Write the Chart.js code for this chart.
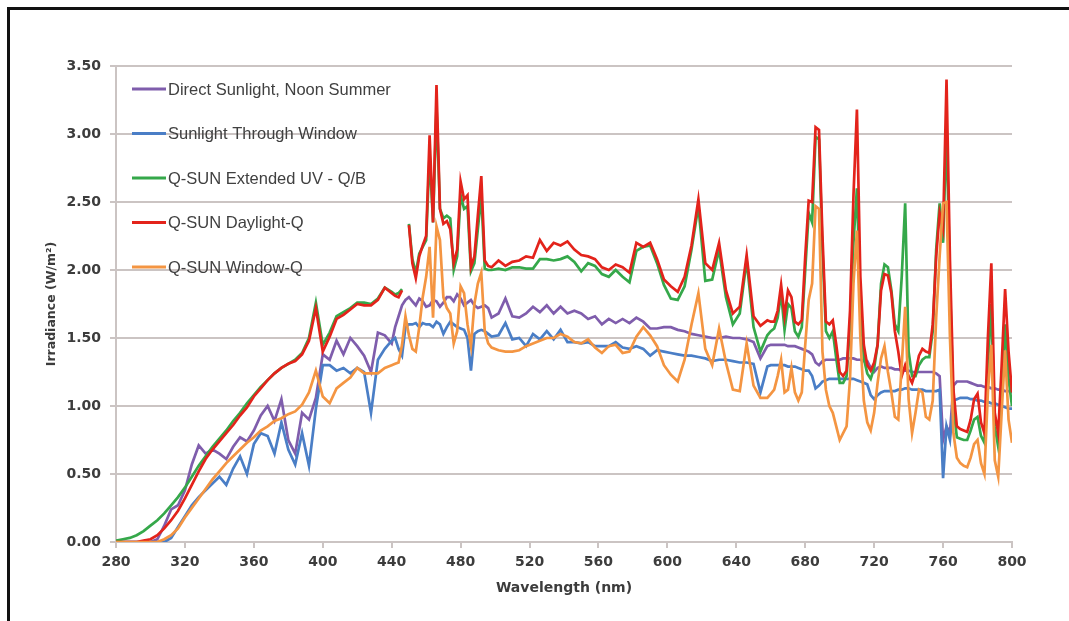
<!DOCTYPE html>
<html>
<head>
<meta charset="utf-8">
<title>Irradiance spectra</title>
<script src="https://cdn.jsdelivr.net/npm/chart.js@4.4.1/dist/chart.umd.min.js"></script>
<style>
  html, body { margin: 0; padding: 0; background: #fff; }
  #wrap { position: relative; width: 1069px; height: 621px; overflow: hidden; }
  #spectrum { position: absolute; left: 0; top: 0; }
  /* black frame, only top and left edges are visible in the shot */
  #frame { position: absolute; left: 7px; top: 7px; width: 1200px; height: 800px;
           border-left: 3px solid #111; border-top: 3px solid #111; }
</style>
</head>
<body>
<div id="wrap">
  <canvas id="spectrum" width="1069" height="621"></canvas>
  <div id="frame"></div>
</div>
<script>
// wavelength grid (nm): 4 nm steps, 2 nm where the lamp lines are sharp
const wavelength = [
  280,284,288,292,296,300,304,308,312,316,320,324,328,332,336,340,344,348,352,356,
  360,364,368,372,376,380,384,388,392,396,400,404,408,412,416,420,424,428,432,436,440,
  442,444,446,448,450,452,454,456,458,460,462,464,466,468,470,472,474,476,478,480,
  482,484,486,488,490,492,494,496,498,
  502,506,510,514,518,522,526,530,534,538,542,546,550,554,558,562,566,570,574,578,
  582,586,590,594,598,602,606,610,614,618,622,626,630,634,638,642,646,650,654,658,
  660,662,664,666,668,670,672,674,676,678,680,682,684,686,688,690,692,694,696,698,
  700,702,704,706,708,710,712,714,716,718,720,722,724,726,728,730,732,734,736,738,
  740,742,744,746,748,750,752,754,756,758,760,762,764,766,768,770,772,774,776,778,
  780,782,784,786,788,790,792,794,796,798,800
];

const directSun = [
  0,0,0,0,0,0,0.02,0.12,0.24,0.27,0.38,0.57,0.71,0.65,0.68,0.65,0.61,0.70,0.77,0.74,
  0.82,0.93,1.00,0.89,1.05,0.75,0.65,0.95,0.90,1.06,1.38,1.34,1.48,1.38,1.50,1.44,1.37,1.25,1.54,1.52,1.46,
  1.58,1.66,1.74,1.78,1.80,1.77,1.74,1.79,1.77,1.73,1.74,1.78,1.77,1.73,1.76,1.80,1.80,1.77,1.82,1.79,
  1.74,1.76,1.78,1.74,1.72,1.73,1.74,1.72,1.65,
  1.68,1.79,1.66,1.65,1.68,1.73,1.69,1.74,1.68,1.73,1.68,1.70,1.68,1.64,1.66,1.60,1.64,1.61,1.64,1.61,
  1.65,1.62,1.57,1.57,1.58,1.58,1.56,1.55,1.53,1.52,1.51,1.50,1.50,1.51,1.50,1.50,1.49,1.47,1.35,1.44,
  1.45,1.45,1.45,1.45,1.45,1.44,1.44,1.44,1.43,1.42,1.41,1.40,1.38,1.32,1.30,1.33,1.34,1.34,1.34,1.34,
  1.34,1.35,1.35,1.35,1.35,1.34,1.34,1.33,1.33,1.28,1.25,1.28,1.29,1.28,1.28,1.28,1.27,1.27,1.26,1.26,
  1.26,1.25,1.25,1.25,1.25,1.25,1.25,1.25,1.24,1.22,0.75,0.85,0.80,1.15,1.18,1.18,1.18,1.18,1.17,1.16,
  1.15,1.15,1.14,1.14,1.13,1.13,1.12,1.12,1.11,1.11,1.10
];

const throughWindow = [
  0,0,0,0,0,0,0,0,0.03,0.11,0.19,0.27,0.33,0.38,0.43,0.48,0.42,0.54,0.63,0.50,
  0.72,0.80,0.78,0.65,0.88,0.68,0.57,0.80,0.56,0.98,1.30,1.30,1.26,1.28,1.24,1.28,1.25,0.95,1.34,1.42,1.48,
  1.50,1.42,1.37,1.58,1.60,1.60,1.61,1.58,1.61,1.60,1.60,1.58,1.62,1.60,1.53,1.58,1.62,1.60,1.58,1.57,
  1.56,1.50,1.26,1.53,1.55,1.56,1.55,1.53,1.51,
  1.52,1.61,1.49,1.50,1.44,1.53,1.49,1.55,1.49,1.56,1.47,1.47,1.46,1.47,1.44,1.44,1.44,1.47,1.43,1.42,
  1.44,1.42,1.37,1.41,1.40,1.39,1.38,1.37,1.37,1.36,1.35,1.33,1.34,1.34,1.33,1.32,1.32,1.31,1.10,1.29,
  1.30,1.30,1.30,1.30,1.30,1.29,1.29,1.29,1.28,1.27,1.26,1.26,1.22,1.13,1.15,1.18,1.19,1.20,1.20,1.20,
  1.20,1.20,1.20,1.20,1.20,1.19,1.18,1.17,1.16,1.08,1.05,1.08,1.10,1.11,1.11,1.11,1.11,1.12,1.12,1.13,
  1.13,1.12,1.12,1.12,1.12,1.11,1.11,1.11,1.11,1.12,0.47,0.85,0.75,1.04,1.05,1.06,1.06,1.06,1.05,1.05,
  1.04,1.04,1.03,1.03,1.02,1.02,1.01,1.00,0.99,0.98,0.98
];

const extendedUV = [
  0.01,0.02,0.03,0.05,0.08,0.12,0.16,0.21,0.27,0.33,0.40,0.48,0.56,0.63,0.70,0.76,0.82,0.89,0.95,1.02,
  1.08,1.14,1.19,1.24,1.28,1.31,1.34,1.39,1.50,1.76,1.45,1.54,1.66,1.69,1.72,1.76,1.76,1.75,1.79,1.87,1.84,
  1.82,1.83,1.86,null,2.34,2.08,1.98,2.12,2.17,2.22,2.85,2.35,3.20,2.45,2.38,2.40,2.38,2.00,2.10,2.55,
  2.45,2.47,1.99,2.05,2.30,2.55,2.01,2.00,2.00,
  2.01,2.00,2.02,2.02,2.01,2.01,2.08,2.08,2.07,2.08,2.10,2.06,1.99,2.05,2.03,1.97,1.95,2.00,1.95,1.91,
  2.14,2.17,2.18,2.05,1.89,1.79,1.78,1.88,2.15,2.47,1.92,1.93,2.15,1.80,1.60,1.68,2.07,1.58,1.40,1.52,
  1.55,1.57,1.65,1.83,1.56,1.75,1.72,1.55,1.51,1.58,2.00,2.42,2.35,2.98,2.96,2.15,1.55,1.50,1.55,1.35,
  1.17,1.17,1.22,1.60,2.20,2.60,1.75,1.35,1.24,1.20,1.28,1.45,1.90,2.04,2.02,1.85,1.60,1.55,1.95,2.49,
  1.40,1.22,1.22,1.30,1.34,1.36,1.36,1.55,2.15,2.49,2.20,3.05,1.90,1.00,0.77,0.76,0.75,0.75,0.82,0.90,
  0.92,0.78,0.73,1.30,1.75,0.85,0.70,1.10,1.60,1.20,1.00
];

const daylightQ = [
  0,0,0,0,0.01,0.02,0.05,0.10,0.16,0.23,0.32,0.42,0.52,0.61,0.68,0.74,0.80,0.86,0.93,0.99,
  1.07,1.13,1.19,1.24,1.28,1.31,1.33,1.38,1.48,1.72,1.40,1.51,1.64,1.67,1.71,1.75,1.74,1.74,1.78,1.87,1.83,
  1.81,1.80,1.85,null,2.33,2.05,1.94,2.10,2.18,2.25,2.99,2.35,3.36,2.45,2.34,2.36,2.30,2.05,2.15,2.65,
  2.52,2.55,2.02,2.10,2.40,2.69,2.07,2.03,2.02,
  2.07,2.03,2.06,2.07,2.10,2.09,2.22,2.14,2.20,2.18,2.21,2.15,2.11,2.10,2.08,2.02,2.00,2.04,2.02,1.98,
  2.20,2.17,2.20,2.08,1.93,1.88,1.84,1.95,2.18,2.52,2.05,2.00,2.20,1.85,1.68,1.73,2.11,1.66,1.59,1.63,
  1.62,1.62,1.70,1.89,1.66,1.85,1.80,1.62,1.60,1.63,2.10,2.51,2.50,3.05,3.03,2.25,1.62,1.60,1.63,1.45,
  1.25,1.22,1.26,1.70,2.55,3.18,1.95,1.45,1.30,1.26,1.32,1.45,1.85,1.97,1.96,1.83,1.55,1.40,1.22,1.30,
  1.22,1.17,1.25,1.37,1.42,1.40,1.39,1.60,2.10,2.42,2.30,3.40,2.07,1.12,0.85,0.83,0.82,0.81,0.90,1.05,
  1.09,0.88,0.80,1.50,2.05,0.95,0.80,1.30,1.86,1.40,1.10
];

const windowQ = [
  0,0,0,0,0,0,0,0.02,0.05,0.10,0.18,0.25,0.32,0.39,0.46,0.52,0.58,0.63,0.68,0.73,
  0.77,0.82,0.85,0.89,0.91,0.94,0.96,1.01,1.10,1.26,1.07,1.02,1.13,1.17,1.21,1.28,1.24,1.24,1.24,1.28,1.30,
  1.31,1.32,1.45,1.66,1.52,1.42,1.40,1.58,1.80,1.95,2.17,1.65,2.32,2.22,1.80,1.72,1.68,1.46,1.55,1.88,
  1.83,1.60,1.44,1.75,1.90,1.98,1.55,1.46,1.43,
  1.41,1.40,1.40,1.41,1.44,1.46,1.48,1.50,1.50,1.53,1.51,1.47,1.46,1.49,1.43,1.39,1.44,1.45,1.39,1.40,
  1.51,1.58,1.52,1.44,1.30,1.23,1.18,1.34,1.60,1.83,1.42,1.30,1.57,1.32,1.12,1.11,1.46,1.15,1.06,1.06,
  1.09,1.12,1.22,1.34,1.10,1.12,1.28,1.10,1.04,1.10,1.45,1.78,1.90,2.47,2.45,1.40,1.12,1.00,0.95,0.85,
  0.75,0.80,0.85,1.20,1.90,2.29,1.50,1.04,0.88,0.82,0.95,1.17,1.35,1.44,1.25,1.10,0.92,0.90,1.30,1.73,
  1.05,0.80,0.95,1.12,1.10,0.92,0.90,1.04,1.65,2.10,2.49,2.50,1.50,0.80,0.62,0.58,0.56,0.55,0.62,0.72,
  0.75,0.58,0.50,1.10,1.45,0.60,0.48,0.95,1.41,0.90,0.73
];

const yTicks = [0, 0.5, 1, 1.5, 2, 2.5, 3, 3.5];

const seriesLabels = ['Direct Sunlight, Noon Summer', 'Sunlight Through Window',
  'Q-SUN Extended UV - Q/B', 'Q-SUN Daylight-Q', 'Q-SUN Window-Q'];
const seriesValues = [directSun, throughWindow, extendedUV, daylightQ, windowQ];
const seriesColors = ['#7f5dac', '#4a7ec6', '#35a84a', '#e3231b', '#f49542'];
// lower order is painted later (on top): orange over red over green...
const drawOrder = [4, 3, 2, 1, 0];

const gridColor = '#cbc4c3';
const textColor = '#3c3c3c';

// legend drawn inside the plot, top left, like the original
const insideLegend = {
  id: 'insideLegend',
  afterDatasetsDraw(chart) {
    const ctx = chart.ctx;
    ctx.save();
    ctx.font = '16.5px "Liberation Sans", Arial, sans-serif';
    ctx.textBaseline = 'middle';
    ctx.lineWidth = 3;
    chart.data.datasets.forEach((ds, i) => {
      const y = 89 + i * 44.5;
      ctx.strokeStyle = ds.borderColor;
      ctx.beginPath();
      ctx.moveTo(132, y);
      ctx.lineTo(166, y);
      ctx.stroke();
      ctx.fillStyle = '#404040';
      ctx.fillText(ds.label, 168, y + 1);
    });
    ctx.restore();
  }
};

const datasets = seriesLabels.map((label, i) => ({
  label: label,
  data: wavelength.map((w, k) => ({ x: w, y: seriesValues[i][k] })),
  borderColor: seriesColors[i],
  backgroundColor: seriesColors[i],
  borderWidth: 2.7,
  pointRadius: 0,
  tension: 0,
  spanGaps: false,
  fill: false,
  order: drawOrder[i]
}));

const ctx = document.getElementById('spectrum').getContext('2d');
new Chart(ctx, {
  type: 'line',
  data: { datasets: datasets },
  options: {
    responsive: false,
    animation: false,
    layout: { padding: { left: 0, right: 57, top: 66, bottom: 0 } },
    plugins: {
      legend: { display: false },
      tooltip: { enabled: false }
    },
    scales: {
      x: {
        type: 'linear',
        min: 280,
        max: 800,
        ticks: {
          stepSize: 40,
          autoSkip: false,
          maxRotation: 0,
          padding: 6,
          color: textColor,
          font: { family: '"DejaVu Sans", sans-serif', size: 14, weight: 'bold' }
        },
        grid: { drawOnChartArea: false, drawTicks: true, tickLength: 6, color: gridColor, lineWidth: 2 },
        border: { color: gridColor, width: 2 },
        title: {
          display: true,
          text: 'Wavelength (nm)',
          color: textColor,
          font: { family: '"DejaVu Sans", sans-serif', size: 14, weight: 'bold' },
          padding: { top: 0, bottom: 24 }
        },
        afterFit: (scale) => { scale.height = 79; }
      },
      y: {
        min: 0,
        max: 3.5,
        afterBuildTicks: (scale) => { scale.ticks = yTicks.map(v => ({ value: v })); },
        ticks: {
          padding: 9,
          color: textColor,
          font: { family: '"DejaVu Sans", sans-serif', size: 14, weight: 'bold' },
          callback: (v) => v.toFixed(2)
        },
        grid: { color: gridColor, lineWidth: 2, tickLength: 6 },
        border: { color: gridColor, width: 2 },
        title: {
          display: true,
          text: 'Irradiance (W/m²)',
          color: textColor,
          font: { family: '"DejaVu Sans", sans-serif', size: 12.5, weight: 'bold' },
          padding: { top: 44, bottom: 0 }
        },
        afterFit: (scale) => { scale.width = 116; }
      }
    }
  },
  plugins: [insideLegend]
});
</script>
</body>
</html>
